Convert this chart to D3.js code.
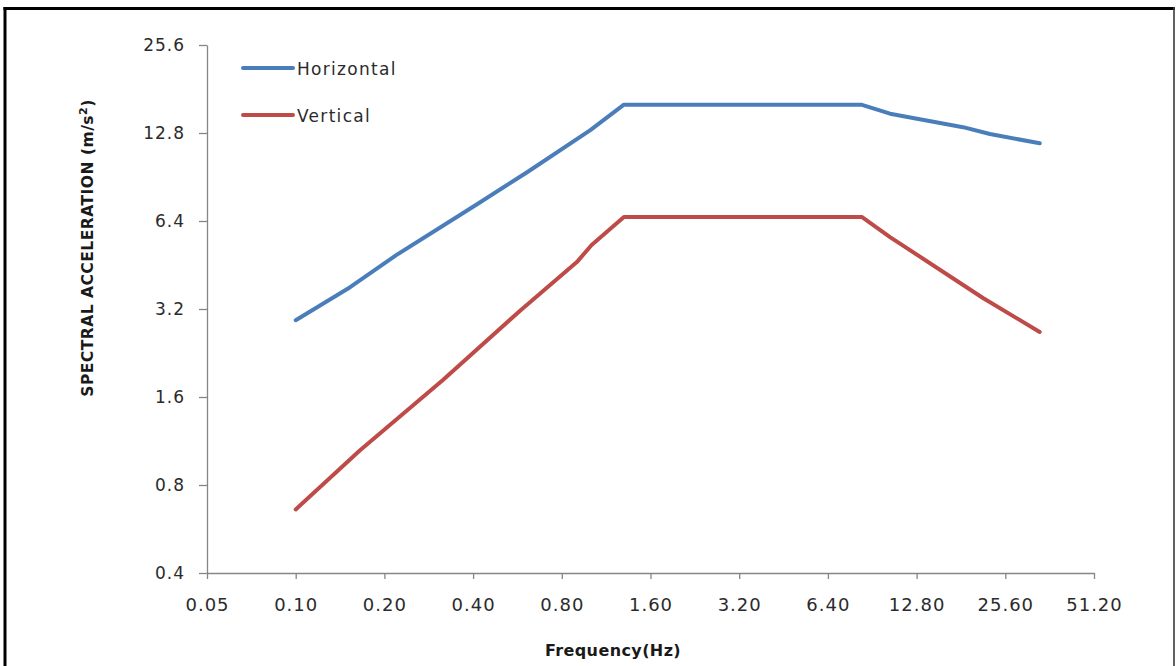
<!DOCTYPE html>
<html>
<head>
<meta charset="utf-8">
<script src="https://cdn.jsdelivr.net/npm/d3@7"></script>
<style>
  html, body { margin: 0; padding: 0; background: #fff; }
  svg { display: block; }
</style>
</head>
<body>
<svg id="chart" width="1176" height="666"></svg>
<script>
// ---- data ----
const seriesNames = ["Horizontal", "Vertical"];
const horizontalFreq = [0.1, 0.153, 0.22, 0.41, 0.61, 1.0, 1.3, 8.3, 10.4, 18.4, 22.7, 33.5];
const horizontalAcc  = [2.93, 3.8, 4.9, 7.27, 9.4, 13.1, 16.0, 16.0, 14.9, 13.4, 12.7, 11.8];
const verticalFreq   = [0.1, 0.165, 0.316, 0.58, 0.9, 1.01, 1.3, 8.36, 10.4, 21.5, 33.5];
const verticalAcc    = [0.66, 1.05, 1.83, 3.17, 4.63, 5.3, 6.6, 6.6, 5.64, 3.49, 2.67];
const xTickValues = [0.05, 0.1, 0.2, 0.4, 0.8, 1.6, 3.2, 6.4, 12.8, 25.6, 51.2];
const yTickValues = [0.4, 0.8, 1.6, 3.2, 6.4, 12.8, 25.6];
const xTitle = "Frequency(Hz)";
const colors = ["#4a7ebb", "#be4b48"];

const svg = d3.select("#chart");

// frame
svg.append("line").attr("x1", 3.5).attr("x2", 1175).attr("y1", 8.5).attr("y2", 8.5)
  .attr("stroke", "#000").attr("stroke-width", 3);
svg.append("line").attr("x1", 5).attr("x2", 5).attr("y1", 7).attr("y2", 666)
  .attr("stroke", "#000").attr("stroke-width", 3);
svg.append("line").attr("x1", 1174).attr("x2", 1174).attr("y1", 7).attr("y2", 666)
  .attr("stroke", "#3a3a3a").attr("stroke-width", 1.6);

const x = d3.scaleLog().base(2).domain([0.05, 51.2]).range([207, 1094]);
const y = d3.scaleLog().base(2).domain([0.4, 25.6]).range([573, 45]);

const axisColor = "#868686";
const tickFont = "'DejaVu Sans', Verdana, sans-serif";

// y axis
const gy = svg.append("g").attr("transform", "translate(207,0)")
  .call(d3.axisLeft(y).tickValues(yTickValues).tickFormat(d3.format(".1f"))
    .tickSize(8).tickSizeOuter(0).tickPadding(14));
gy.selectAll("path, line").attr("stroke", axisColor).attr("stroke-width", 1.3);
gy.selectAll("text").attr("font-family", tickFont).attr("font-size", 17)
  .attr("fill", "#2b2b2b").attr("letter-spacing", "1px");

// x axis
const gx = svg.append("g").attr("transform", "translate(0,573)")
  .call(d3.axisBottom(x).tickValues(xTickValues).tickFormat(d3.format(".2f"))
    .tickSize(6).tickSizeOuter(0).tickPadding(19));
gx.selectAll("path, line").attr("stroke", axisColor).attr("stroke-width", 1.3);
gx.selectAll("text").attr("font-family", tickFont).attr("font-size", 18)
  .attr("fill", "#2b2b2b").attr("letter-spacing", "1px");

// axis titles
svg.append("text").attr("x", 613).attr("y", 656).attr("text-anchor", "middle")
  .attr("font-family", "'DejaVu Sans', sans-serif").attr("font-weight", "bold")
  .attr("font-size", 16).attr("letter-spacing", "0.4px").attr("fill", "#1a1a1a")
  .text(xTitle);

const yt = svg.append("text").attr("transform", "translate(93,248) rotate(-90)")
  .attr("text-anchor", "middle")
  .attr("font-family", "'DejaVu Sans', sans-serif").attr("font-weight", "bold")
  .attr("font-size", 15.5).attr("letter-spacing", "0.5px").attr("fill", "#1a1a1a");
yt.append("tspan").text("SPECTRAL ACCELERATION (m/s");
yt.append("tspan").attr("baseline-shift", "super").attr("font-size", 11).text("2");
yt.append("tspan").text(")");

// lines
const series = [
  { name: seriesNames[0], f: horizontalFreq, a: horizontalAcc, color: colors[0] },
  { name: seriesNames[1], f: verticalFreq, a: verticalAcc, color: colors[1] }
];
const line = d3.line().x(d => x(d[0])).y(d => y(d[1]));
series.forEach(s => {
  svg.append("path").datum(s.f.map((f, i) => [f, s.a[i]]))
    .attr("d", line).attr("fill", "none").attr("stroke", s.color)
    .attr("stroke-width", 4).attr("stroke-linejoin", "round").attr("stroke-linecap", "round");
});

// legend
series.forEach((s, i) => {
  const ly = 68 + i * 47;
  svg.append("line").attr("x1", 243).attr("x2", 293).attr("y1", ly).attr("y2", ly)
    .attr("stroke", s.color).attr("stroke-width", 4).attr("stroke-linecap", "round");
  svg.append("text").attr("x", 297).attr("y", ly + 7)
    .attr("font-family", tickFont).attr("font-size", 17).attr("letter-spacing", "1.3px")
    .attr("fill", "#2b2b2b").text(s.name);
});
</script>
</body>
</html>
